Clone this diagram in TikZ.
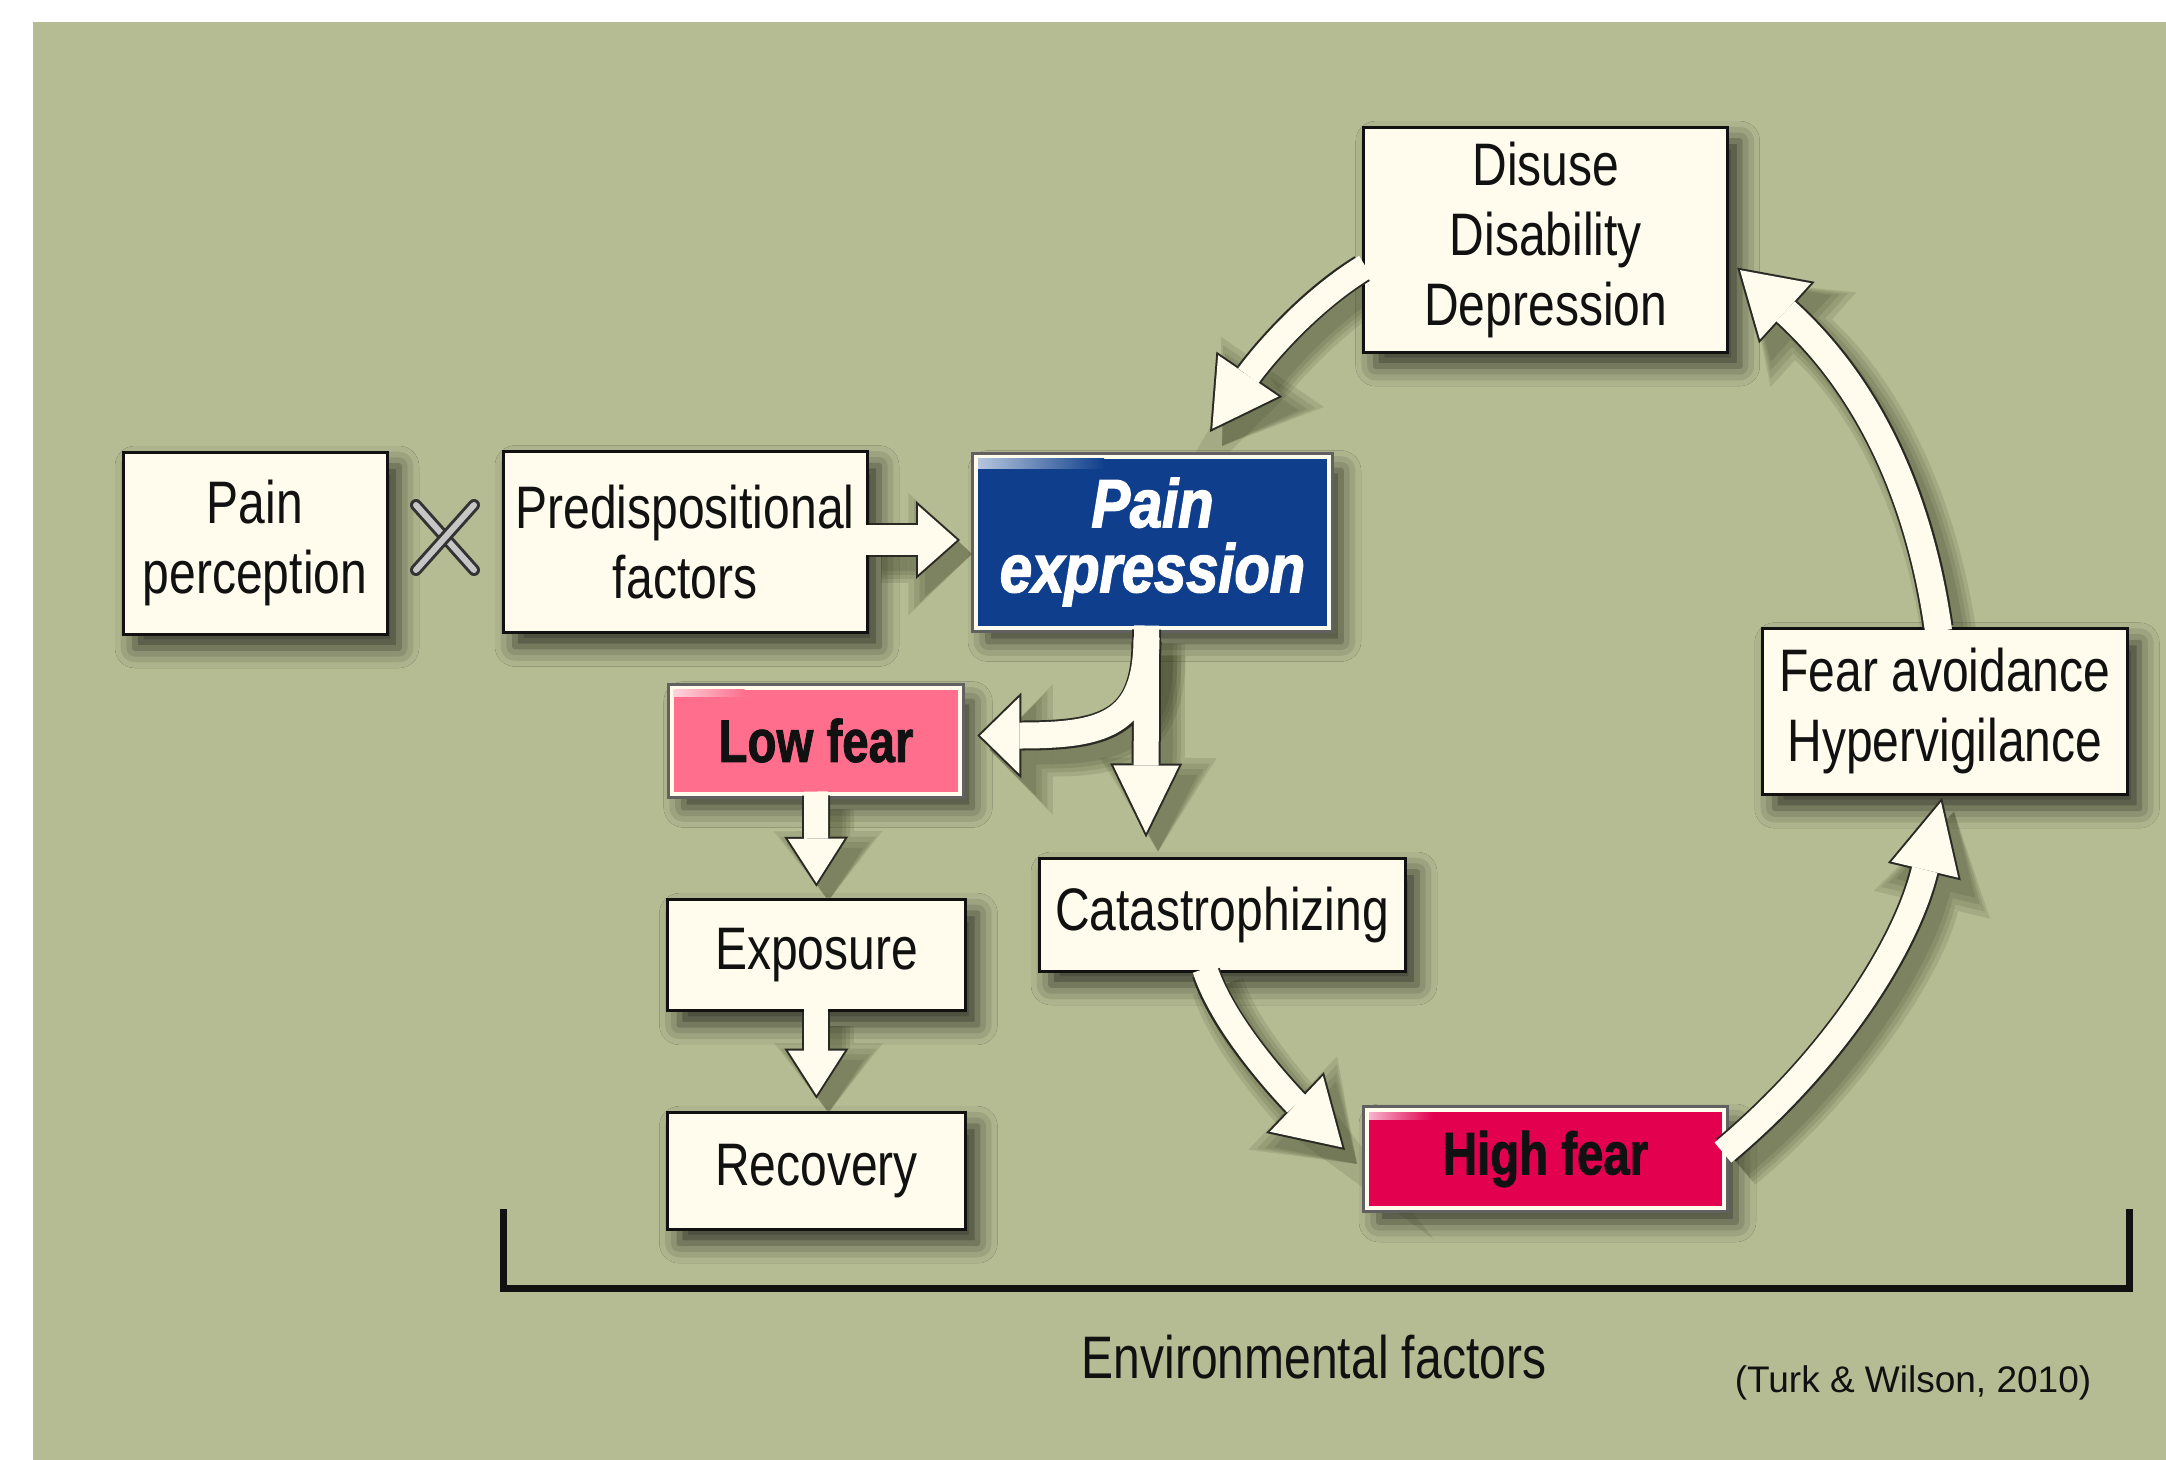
\documentclass[tikz,border=0pt]{standalone}
\usepackage{fontspec}
\setmainfont{Liberation Sans}[FakeStretch=0.8]
\newfontfamily\citefont{Liberation Sans}
\newfontfamily\pefont{Liberation Sans}[FakeStretch=0.85, FakeBold=2.2]
\newfontfamily\boldfont{Liberation Sans}[FakeStretch=0.79, FakeBold=1.4]
\usetikzlibrary{arrows.meta,calc,shadows.blur}
\definecolor{bg}{HTML}{B5BC93}
\definecolor{cream}{HTML}{FFFCEE}
\definecolor{peblue}{HTML}{0F3F8C}
\definecolor{lowpink}{HTML}{FF6F8D}
\definecolor{highred}{HTML}{E2004F}
\definecolor{arrline}{HTML}{2A2A24}
\definecolor{shadcol}{HTML}{2E3318}
\definecolor{txt}{HTML}{111111}
\newcommand{\mainsz}{\fontsize{30}{35}\selectfont}
\newcommand{\bAo}{1}
\newcommand{\darkarrow}[4]{%
  \pgfmathsetmacro{\bAw}{#1+2*\bAo}%
  \draw[draw=arrline, line width=\bAw pt, -{Triangle[length=#2pt, width=#3pt, line width=0pt]}] #4;}
\newcommand{\creamarrow}[4]{%
  \pgfmathsetmacro{\bAd}{\bAo/sin(atan((#3/2)/#2))}%
  \pgfmathsetmacro{\bAL}{#2-\bAo-\bAd}%
  \pgfmathsetmacro{\bAH}{#3*\bAL/#2}%
  \draw[draw=cream, line width=#1pt, shorten <=-2pt, shorten >=\bAd pt, -{Triangle[length=\bAL pt, width=\bAH pt, line width=0pt, color=cream]}] #4;}
\newcommand{\shadowarrow}[4]{%
  \begin{scope}[transform canvas={xshift=6pt,yshift=-7pt}]
  \foreach \e in {14,10,6,2}{%
    \pgfmathsetmacro{\sW}{#1+\e}\pgfmathsetmacro{\sL}{#2+0.7*\e}\pgfmathsetmacro{\sH}{#3+1.6*\e}%
    \draw[draw=shadcol, opacity=0.12, line width=\sW pt, -{Triangle[length=\sL pt, width=\sH pt, line width=0pt]}] #4;}
  \end{scope}}
\newcommand{\blockarrow}[4]{\darkarrow{#1}{#2}{#3}{#4}\creamarrow{#1}{#2}{#3}{#4}}
% connector paths (node to node)
\newcommand{\pthPF}{($(pf.east)+(0,-2)$) -- ($(pe.west)+(-14,-2)$)}
\newcommand{\pthLE}{(lf.south) -- ($(ex.north)+(0,-11)$)}
\newcommand{\pthER}{(ex.south) -- ($(rc.north)+(0,-12)$)}
\newcommand{\pthPD}{($(pe.south)+(-6,0)$) -- ($(ca.north)+(-76,-19)$)}
\newcommand{\pthPB}{($(pe.south)+(-6,12)$) .. controls ($(pe.south)+(-6,96)$) and ($(lf.east)+(140,-5)$) .. ($(lf.east)+(15,-5)$)}
\newcommand{\pthCH}{($(ca.south)+(-16,0)$) .. controls (1226,1034) and (1301.5,1108.7) .. ($(hf.west)+(-20,-9)$)}
\newcommand{\pthHF}{($(hf.east)+(0,-9)$) .. controls (1836,1058) and (1907,944) .. ($(fa.south)+(-3,2)$)}
\newcommand{\pthFD}{($(fa.north)+(-7,0)$) .. controls (1915,465) and (1848,368) .. ($(dd.east)+(8,28)$)}
\newcommand{\pthDP}{($(dd.west)+(0,29)$) .. controls (1302.6,305) and (1255,366) .. ($(pe.north)+(57.5,-22.5)$)}
\tikzset{
  softshadow/.style={blur shadow={shadow xshift=6pt, shadow yshift=-7pt, shadow blur radius=10pt, shadow opacity=70}},
  cbox/.style={draw=txt, line width=1.5pt, fill=cream, inner sep=0pt, align=center, text=txt, font=\mainsz, softshadow},
  colbox/.style={fill=#1, draw=cream, line width=2pt, inner sep=0pt, align=center, softshadow, preaction={draw=black!62, line width=5pt}},
  xsym/.style={draw=black!80, line width=1.5pt, double=white!55!gray, double distance=3pt, line cap=round},
  brk/.style={draw=txt, line width=3.5pt, line join=miter}
}
\begin{document}
\begin{tikzpicture}[x=0.5pt,y=-0.5pt]
\useasboundingbox (0,0) rectangle (2166,1460);
\fill[white] (0,0) rectangle (2166,1460);
\fill[bg] (33,22) rectangle (2166,1460);

% boxes
\node[cbox, minimum width=132pt, minimum height=91pt] (pp) at (255,543) {Pain\\perception};
\node[cbox, minimum width=182pt, minimum height=90.5pt] (pf) at (685,542) {Predispositional\\factors};
\node[colbox=peblue, minimum width=176.5pt, minimum height=85.5pt, text=white,
      font=\pefont\fontsize{34}{32.5}\selectfont\bfseries\itshape] (pe) at (1152.5,542) {Pain\\expression};
\node[colbox=lowpink, minimum width=144.3pt, minimum height=53pt, text=txt, font=\boldfont\fontsize{30}{35}\selectfont\bfseries] (lf) at (816,740.5) {Low fear};
\node[cbox, minimum width=149pt, minimum height=55.8pt] (ex) at (816.4,955) {Exposure};
\node[cbox, minimum width=149pt, minimum height=58.5pt] (rc) at (816.4,1170.7) {Recovery};
\node[cbox, minimum width=183pt, minimum height=56.5pt] (ca) at (1222,914.5) {Catastrophizing};
\node[colbox=highred, minimum width=178.5pt, minimum height=49pt, text=txt, font=\boldfont\fontsize{30}{35}\selectfont\bfseries] (hf) at (1545.5,1159) {High fear};
\node[cbox, minimum width=182pt, minimum height=112.5pt] (dd) at (1545.7,239.6) {Disuse\\Disability\\Depression};
\node[cbox, minimum width=182.3pt, minimum height=82.8pt] (fa) at (1945,711.4) {Fear avoidance\\Hypervigilance};

% corner highlights of the coloured boxes
\shade[left color=white!70!peblue, right color=peblue] ($(pe.north west)+(4,4)$) rectangle ($(pe.north west)+(130,14)$);
\shade[left color=white!70!lowpink, right color=lowpink] ($(lf.north west)+(4,4)$) rectangle ($(lf.north west)+(75,11)$);
\shade[left color=white!70!highred, right color=highred] ($(hf.north west)+(4,4)$) rectangle ($(hf.north west)+(68,11)$);

% multiplication sign
\draw[xsym] (416,505) -- (474,570);
\draw[xsym] (474,505) -- (416,570);

% soft shadows of the arrows, kept off the boxes
\begin{scope}[even odd rule]
\clip (0,0) rectangle (2166,1460)
  (pf.north west) rectangle (pf.south east)
  ($(pe.north west)+(-3,-3)$) rectangle ($(pe.south east)+(3,3)$)
  ($(lf.north west)+(-3,-3)$) rectangle ($(lf.south east)+(3,3)$)
  (ex.north west) rectangle (ex.south east)
  (rc.north west) rectangle (rc.south east)
  (ca.north west) rectangle (ca.south east)
  ($(hf.north west)+(-3,-3)$) rectangle ($(hf.south east)+(3,3)$)
  (dd.north west) rectangle (dd.south east)
  (fa.north west) rectangle (fa.south east);
\shadowarrow{15}{22}{39}{\pthPF}
\shadowarrow{12}{25}{32}{\pthLE}
\shadowarrow{12}{25}{32}{\pthER}
\shadowarrow{12.5}{37}{36}{\pthPD}
\shadowarrow{13}{22}{43}{\pthPB}
\shadowarrow{12.5}{34.5}{42}{\pthCH}
\shadowarrow{13}{38}{37.5}{\pthHF}
\shadowarrow{13.5}{33.5}{41.5}{\pthFD}
\shadowarrow{12.5}{35}{40}{\pthDP}
\end{scope}

% straight block arrows
\blockarrow{15}{22}{39}{\pthPF}
\blockarrow{12}{25}{32}{\pthLE}
\blockarrow{12}{25}{32}{\pthER}

% fork from pain expression
\darkarrow{12.5}{37}{36}{\pthPD}
\darkarrow{13}{22}{43}{\pthPB}
\creamarrow{12.5}{37}{36}{\pthPD}
\creamarrow{13}{22}{43}{\pthPB}

% curved cycle arrows
\blockarrow{12.5}{34.5}{42}{\pthCH}
\blockarrow{13}{38}{37.5}{\pthHF}
\blockarrow{13.5}{33.5}{41.5}{\pthFD}
\blockarrow{12.5}{35}{40}{\pthDP}

% environmental bracket
\coordinate (brl) at (503,1209);
\coordinate (brr) at (2129,1209);
\draw[brk] (brl) |- (brr |- 0,1288) -- (brr);
\node[anchor=base, text=txt, font=\mainsz, inner sep=0pt] (env) at (1314,1378) {Environmental factors};
\node[anchor=base, text=txt, font=\citefont\fontsize{18.5}{22}\selectfont, inner sep=0pt] (cite) at (1913,1392) {(Turk \& Wilson, 2010)};
\end{tikzpicture}
\end{document}
